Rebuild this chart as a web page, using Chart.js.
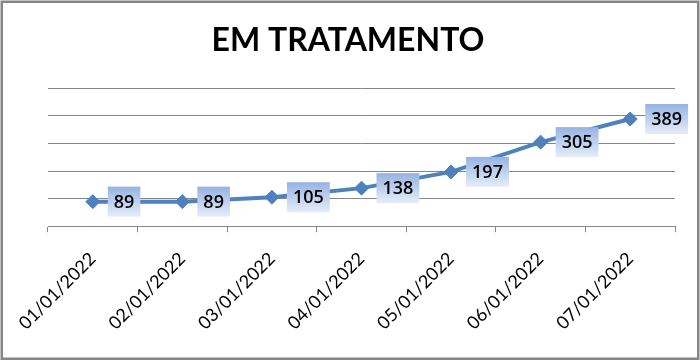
<!DOCTYPE html>
<html>
<head>
<meta charset="utf-8">
<script src="https://cdn.jsdelivr.net/npm/chart.js@4/dist/chart.umd.min.js"></script>
<style>
  html, body { margin: 0; padding: 0; background: #fff; }
  #wrap { position: relative; width: 700px; height: 361px; }
</style>
</head>
<body>
<div id="wrap"><canvas id="chart" width="700" height="361"></canvas></div>
<script>
// dados do grafico
const categorias = ['01/01/2022', '02/01/2022', '03/01/2022', '04/01/2022', '05/01/2022', '06/01/2022', '07/01/2022'];
const emTratamento = [89, 89, 105, 138, 197, 305, 389];
const titulo = 'EM TRATAMENTO';

// caixas com gradiente atras dos valores
const rotulos = {
    id: 'rotulos',
    afterDatasetsDraw(chart) {
        const ctx = chart.ctx;
        const meta = chart.getDatasetMeta(0);
        ctx.save();
        ctx.font = '600 18px "Open Sans"';
        ctx.textBaseline = 'middle';
        ctx.textAlign = 'center';
        meta.data.forEach((pt, i) => {
            const txt = String(emTratamento[i]);
            const w = ctx.measureText(txt).width + 12;
            const h = 30;
            const x0 = pt.x + 15;
            const y0 = pt.y - h / 2;
            const g = ctx.createLinearGradient(0, y0, 0, y0 + h);
            g.addColorStop(0, '#95B3E2');
            g.addColorStop(1, '#E6EDF9');
            ctx.fillStyle = g;
            ctx.fillRect(x0, y0, w, h);
            ctx.fillStyle = '#000';
            ctx.fillText(txt, x0 + w / 2, pt.y + 1);
        });
        ctx.restore();
    },
    afterDraw(chart) {
        const ctx = chart.ctx;
        ctx.save();
        ctx.strokeStyle = '#868686';
        ctx.lineWidth = 2.5;
        ctx.strokeRect(1.75, 1.75, 696.5, 357);
        ctx.restore();
    }
};

new Chart(document.getElementById('chart'), {
    type: 'line',
    data: {
        labels: categorias,
        datasets: [{
            data: emTratamento,
            borderColor: '#4F81BD',
            backgroundColor: '#4F81BD',
            borderWidth: 4,
            pointStyle: 'rectRot',
            pointRadius: 7,
            pointBorderWidth: 1,
            fill: false,
            tension: 0
        }]
    },
    options: {
        responsive: false,
        animation: false,
        layout: { padding: { left: 21, right: 25, bottom: 11 } },
        plugins: {
            legend: { display: false },
            tooltip: { enabled: false },
            title: {
                display: true,
                text: titulo,
                color: '#000',
                font: { family: 'Lato', size: 32, weight: 'bold' },
                padding: { top: 21, bottom: 29 }
            }
        },
        scales: {
            x: {
                offset: true,
                grid: { offset: true, drawOnChartArea: false, color: '#868686', tickLength: 6 },
                border: { color: '#868686', width: 1 },
                ticks: {
                    color: '#000',
                    font: { family: 'Lato', size: 18 },
                    minRotation: 45,
                    maxRotation: 45,
                    padding: 16
                }
            },
            y: {
                min: 0,
                max: 500,
                afterFit(scale) { scale.width = 27; },
                ticks: { display: false, stepSize: 100 },
                grid: { color: '#868686', drawTicks: false },
                border: { display: false }
            }
        }
    },
    plugins: [rotulos]
});
</script>
</body>
</html>
